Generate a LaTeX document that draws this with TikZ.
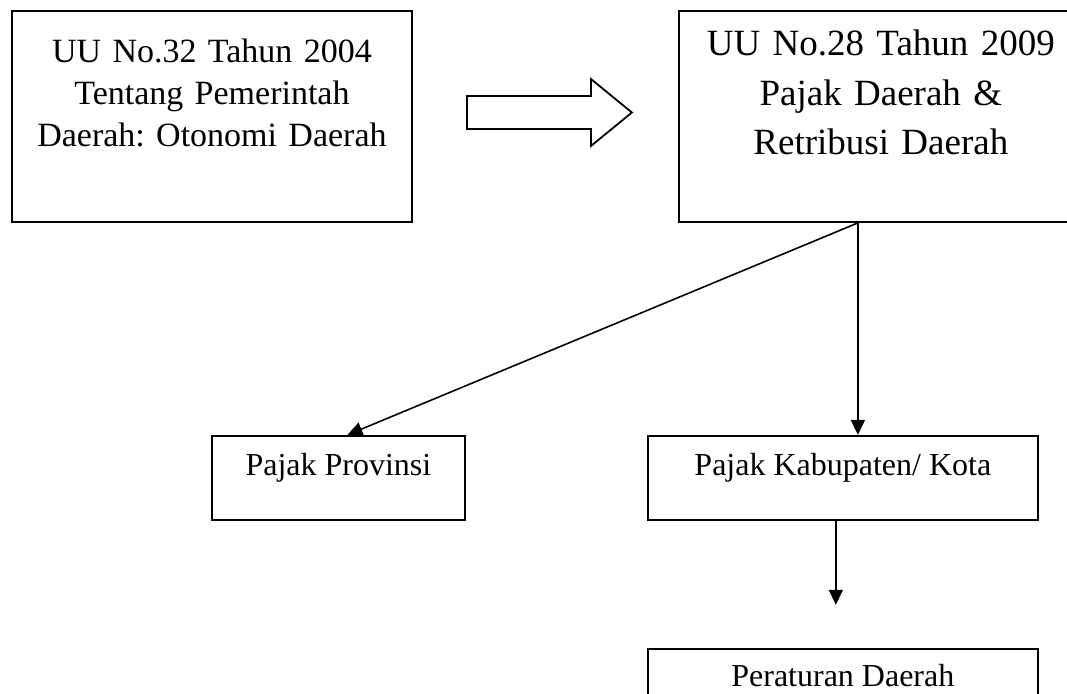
\documentclass[tikz,border=0pt]{standalone}
\usepackage{fontspec}
\setmainfont{Liberation Serif}
\frenchspacing
\usetikzlibrary{
    arrows.meta,
    calc,
    positioning,
}
\tikzstyle{arrow}=[-{Triangle[length=15pt, width=14pt]}]
\tikzset{every picture/.style={line width=1.6pt}}
\tikzset{
    lawbox/.style={draw, line width=1.9pt, inner sep=0pt, align=center, text width=400pt},
    taxbox/.style={draw, line width=1.9pt, inner sep=0pt, minimum width=390pt, text height=40pt, text depth=44pt, font=\fontsize{32}{38}\selectfont},
}

\begin{document}
\begin{tikzpicture}
            \useasboundingbox (-11pt,10pt) rectangle (1056pt,-683pt);
            \clip (-11pt,10pt) rectangle (1056pt,-683pt);
            \node[lawbox, anchor=north west, text height=52pt, text depth=159pt, font=\fontsize{34}{42}\selectfont] (uu32) at (0,0) {UU No.32 Tahun 2004\\Tentang Pemerintah\\Daerah: Otonomi Daerah};
            \node[lawbox, right=265pt of uu32, text width=404pt, text height=45pt, text depth=166pt, font=\fontsize{37}{49.5}\selectfont] (uu28) {UU No.28 Tahun 2009\\Pajak Daerah \&\\Retribusi Daerah};
            \node[taxbox, below=212pt of uu28, xshift=-38pt] (kabupaten) {Pajak Kabupaten/ Kota};
            \node[taxbox, left=181pt of kabupaten, minimum width=253pt] (provinsi) {Pajak Provinsi};
            \node[taxbox, below=127pt of kabupaten, text height=38pt] (perda) {Peraturan Daerah};
            \coordinate (gap) at ($(uu32.north east)+(54pt,-86pt)$);
            \draw[line width=1.8pt] (gap) -- ++(124pt,0) -- ++(0,17pt) -- ++(41pt,-33.5pt) -- ++(-41pt,-33.5pt) -- ++(0,17pt) -- ++(-124pt,0) -- cycle;
            \coordinate (fork) at ($(uu28.south west)+(180pt,0)$);
            \coordinate (provtop) at ($(provinsi.north)+(9pt,0)$);
            \draw[arrow] (fork) -- (provtop);
            \draw[arrow] (fork) -- (fork |- kabupaten.north);
            \coordinate (kabout) at ($(kabupaten.south)+(-7pt,0)$);
            \coordinate (perdain) at ($(kabout)+(0,-84pt)$);
            \draw[arrow] (kabout) -- (perdain);
        \end{tikzpicture}
\end{document}
